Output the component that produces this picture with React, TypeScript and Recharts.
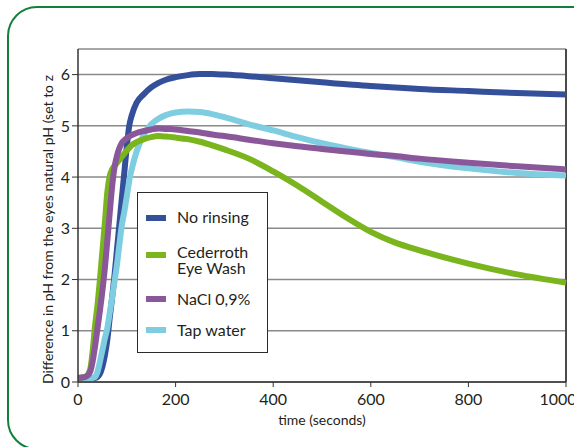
import React from "react";
import { LineChart, Line, XAxis, YAxis, CartesianGrid, ReferenceLine, Legend } from "recharts";

// time in seconds
const times = [0, 15, 25, 30, 35, 40, 45, 50, 55, 60, 65, 70, 75, 80, 85, 90, 95, 100, 105, 110, 120, 135, 150, 165, 180, 200, 225, 250, 275, 300, 350, 400, 450, 500, 550, 600, 650, 700, 800, 900, 1000];

const noRinsing = [0.08, 0.08, 0.08, 0.08, 0.08, 0.1, 0.16, 0.3, 0.52, 0.82, 1.25, 1.65, 2.1, 2.6, 3.1, 3.6, 4.1, 4.6, 5.0, 5.2, 5.45, 5.62, 5.75, 5.84, 5.9, 5.95, 5.99, 6.01, 6.01, 6.0, 5.97, 5.93, 5.89, 5.85, 5.81, 5.78, 5.75, 5.72, 5.68, 5.64, 5.61];
const cederroth = [0.08, 0.1, 0.25, 0.6, 1.1, 1.5, 2.0, 2.55, 3.1, 3.7, 4.02, 4.15, 4.22, 4.28, 4.34, 4.4, 4.46, 4.52, 4.57, 4.62, 4.68, 4.74, 4.78, 4.8, 4.79, 4.77, 4.74, 4.69, 4.62, 4.54, 4.36, 4.11, 3.83, 3.52, 3.21, 2.93, 2.72, 2.57, 2.31, 2.1, 1.94];
const nacl = [0.08, 0.1, 0.2, 0.4, 0.7, 1.05, 1.4, 1.78, 2.22, 2.75, 3.3, 3.82, 4.2, 4.42, 4.57, 4.67, 4.72, 4.76, 4.79, 4.82, 4.86, 4.9, 4.93, 4.95, 4.94, 4.93, 4.9, 4.87, 4.83, 4.8, 4.73, 4.66, 4.6, 4.55, 4.5, 4.45, 4.41, 4.36, 4.28, 4.21, 4.15];
const tapWater = [0.07, 0.07, 0.07, 0.08, 0.1, 0.2, 0.4, 0.62, 0.85, 1.05, 1.35, 1.65, 1.97, 2.3, 2.7, 3.07, 3.33, 3.62, 3.93, 4.15, 4.5, 4.83, 5.03, 5.14, 5.21, 5.26, 5.28, 5.27, 5.23, 5.17, 5.03, 4.91, 4.78, 4.66, 4.56, 4.47, 4.39, 4.3, 4.17, 4.08, 4.03];

const xTicks = [0, 200, 400, 600, 800, 1000];
const yTicks = [0, 1, 2, 3, 4, 5, 6];

const legendNames = ["No rinsing", "Cederroth\nEye Wash", "NaCl 0,9%", "Tap water"];
const legendKeys = ["noRinsing", "cederroth", "nacl", "tapWater"];

const colors: Record<string, string> = {
  noRinsing: "#35509b",
  cederroth: "#7ab51d",
  nacl: "#8b579b",
  tapWater: "#7ecde0",
};

const data = times.map((t, i) => ({
  t,
  noRinsing: noRinsing[i],
  cederroth: cederroth[i],
  nacl: nacl[i],
  tapWater: tapWater[i],
}));

const font = "Lato, 'Open Sans', sans-serif";
const digitFont = "'Liberation Sans Narrow', Lato, sans-serif";
const ink = "#231f20";

// text block tops / swatch tops inside the legend box
const itemTops = [16, 51, 98, 129];
const swatchTops = [22, 59, 103, 134];

function LegendBox() {
  return (
    <div
      style={{
        position: "relative",
        width: 131,
        height: 161,
        boxSizing: "border-box",
        border: "1.3px solid #2b2b2b",
        background: "#fff",
        fontFamily: font,
        fontSize: 16,
        lineHeight: "15.6px",
        color: ink,
      }}
    >
      {legendKeys.map((k, i) => (
        <React.Fragment key={k}>
          <div style={{ position: "absolute", left: 8, top: swatchTops[i], width: 20, height: 6, background: colors[k] }} />
          <div style={{ position: "absolute", left: 39, top: itemTops[i], whiteSpace: "pre", textAlign: "left" }}>
            {legendNames[i]}
          </div>
        </React.Fragment>
      ))}
    </div>
  );
}

const YTitle = () => (
  <text
    x={53}
    y={384}
    transform="rotate(-90 53 384)"
    textAnchor="start"
    fontFamily={font}
    fontSize={14}
    fill={ink}
  >
    Difference in pH from the eyes natural pH (set to z
  </text>
);

const XTitle = () => (
  <text x={322} y={425} textAnchor="middle" fontFamily={font} fontSize={14} fill={ink}>
    time (seconds)
  </text>
);

export default function App() {
  const tick = { fontFamily: digitFont, fontSize: 16, fill: ink };
  return (
    <div style={{ position: "absolute", left: 0, top: 0, width: 574, height: 447, overflow: "hidden", background: "#fff" }}>
      <div
        style={{
          position: "absolute",
          left: 7,
          top: 6,
          width: 640,
          height: 444,
          boxSizing: "border-box",
          border: "2.5px solid #12803c",
          borderRadius: 30,
        }}
      />
      <LineChart width={574} height={447} data={data} margin={{ top: 49, right: 8, bottom: 25, left: 0 }}>
        <CartesianGrid horizontal vertical={false} stroke="#8a8a8a" strokeWidth={1.5} />
        <XAxis
          dataKey="t"
          type="number"
          domain={[0, 1000]}
          ticks={xTicks}
          height={40}
          tickSize={5}
          tickMargin={7}
          tick={tick}
          axisLine={{ stroke: "#333", strokeWidth: 1.5 }}
          tickLine={{ stroke: "#333" }}
          label={<XTitle />}
        />
        <YAxis
          type="number"
          domain={[0, 6.5]}
          ticks={yTicks}
          width={78}
          tickSize={6}
          tickMargin={2}
          tick={tick}
          axisLine={{ stroke: "#333", strokeWidth: 1.5 }}
          tickLine={{ stroke: "#333" }}
          label={<YTitle />}
        />
        <ReferenceLine x={1000} stroke="#4a4a4a" strokeWidth={2} />
        <Line type="monotone" dataKey="noRinsing" stroke={colors.noRinsing} strokeWidth={6} dot={false} isAnimationActive={false} />
        <Line type="monotone" dataKey="tapWater" stroke={colors.tapWater} strokeWidth={6} dot={false} isAnimationActive={false} />
        <Line type="monotone" dataKey="cederroth" stroke={colors.cederroth} strokeWidth={6} dot={false} isAnimationActive={false} />
        <Line type="monotone" dataKey="nacl" stroke={colors.nacl} strokeWidth={6} dot={false} isAnimationActive={false} />
        <Legend
          layout="vertical"
          align="center"
          verticalAlign="middle"
          content={() => <LegendBox />}
          wrapperStyle={{ left: 137, top: 192, width: 131, height: 161 }}
        />
      </LineChart>
    </div>
  );
}
